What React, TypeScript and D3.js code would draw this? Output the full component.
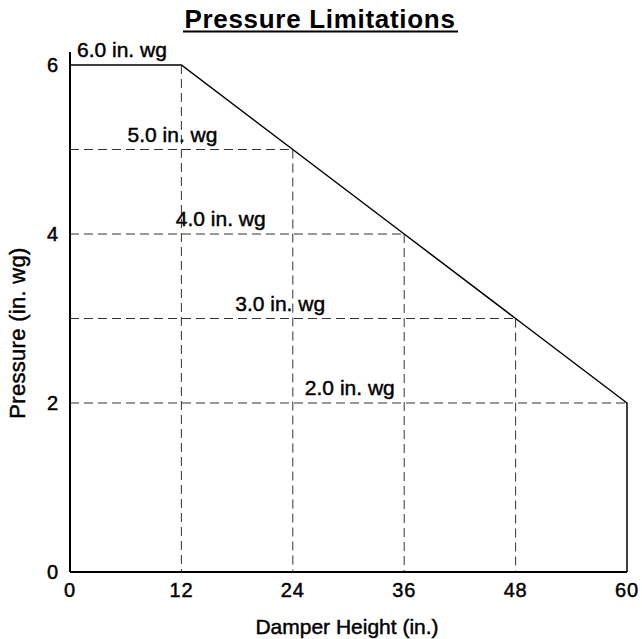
import React from "react";
import * as d3 from "d3";

// damper height (in.) vs max pressure (in. wg)
const heights = [0, 12, 24, 36, 48, 60];
const pressures = [6, 6, 5, 4, 3, 2];
const xTicks = [0, 12, 24, 36, 48, 60];
const yTicks = [0, 2, 4, 6];
const labels = ["6.0 in. wg", "5.0 in. wg", "4.0 in. wg", "3.0 in. wg", "2.0 in. wg"];
const labelX = [0.75, 6.2, 11.4, 17.8, 25.3]; // where each label starts, in inches

const W = 642;
const H = 639;
const FONT = "'Liberation Sans', Arial, Helvetica, sans-serif";

// medium-ish weight: regular face with a hairline stroke
const medium = { stroke: "#000", strokeWidth: 0.45 };

const App: React.FC = () => {
  const x = d3.scaleLinear().domain([0, 60]).range([70, 627]);
  const y = d3.scaleLinear().domain([0, 6]).range([572, 65]);

  const pts = heights.map((h, i) => [h, pressures[i]] as [number, number]);
  const line = d3
    .line<[number, number]>()
    .x((d) => x(d[0]))
    .y((d) => y(d[1]));
  const outline = line([...pts, [60, 0]]);

  const labelled = pts.slice(0, 1).concat(pts.slice(2)); // 6, 5, 4, 3, 2

  return (
    <svg width={W} height={H} style={{ position: "absolute", left: 0, top: 0 }}>
      <rect width={W} height={H} fill="#fff" />

      {/* title */}
      <text
        x={320}
        y={28}
        textAnchor="middle"
        fontFamily={FONT}
        fontWeight="bold"
        fontSize={26}
        letterSpacing={0.7}
      >
        Pressure Limitations
      </text>
      <line x1={183} x2={458} y1={31.5} y2={31.5} stroke="#000" strokeWidth={2} />

      {/* dashed guides */}
      <g stroke="#333" strokeWidth={1} strokeDasharray="9,5" fill="none">
        {pts.slice(1, 5).map((p, i) => (
          <line key={"v" + i} x1={x(p[0])} x2={x(p[0])} y1={y(p[1])} y2={y(0)} />
        ))}
        {pts.slice(2).map((p, i) => (
          <line key={"h" + i} x1={x(0)} x2={x(p[0])} y1={y(p[1])} y2={y(p[1])} />
        ))}
      </g>

      {/* limit line */}
      <path d={outline ?? ""} fill="none" stroke="#000" strokeWidth={1.5} />

      {/* axes */}
      <line x1={x(0)} x2={x(0)} y1={52} y2={y(0)} stroke="#000" strokeWidth={2} />
      <line x1={x(0)} x2={x(60)} y1={y(0)} y2={y(0)} stroke="#000" strokeWidth={2} />

      {/* tick labels */}
      <g fontFamily={FONT} fontSize={20} letterSpacing={0.8} fill="#000" {...medium}>
        {xTicks.map((t) => (
          <text key={"xt" + t} x={x(t)} y={597} textAnchor="middle">
            {t}
          </text>
        ))}
        {yTicks.map((t) => (
          <text key={"yt" + t} x={59} y={y(t) + 7} textAnchor="end">
            {t}
          </text>
        ))}
      </g>

      {/* pressure labels */}
      <g fontFamily={FONT} fontSize={21} fill="#000" {...medium}>
        {labelled.map((p, i) => (
          <text key={"l" + i} x={x(labelX[i])} y={y(p[1]) - 8}>
            {labels[i]}
          </text>
        ))}
      </g>

      {/* axis titles */}
      <text x={347} y={634} textAnchor="middle" fontFamily={FONT} fontSize={21} {...medium}>
        Damper Height (in.)
      </text>
      <text
        transform="translate(25,333) rotate(-90)"
        textAnchor="middle"
        fontFamily={FONT}
        fontSize={22}
        letterSpacing={0.3}
        {...medium}
      >
        Pressure (in. wg)
      </text>
    </svg>
  );
};

export default App;
